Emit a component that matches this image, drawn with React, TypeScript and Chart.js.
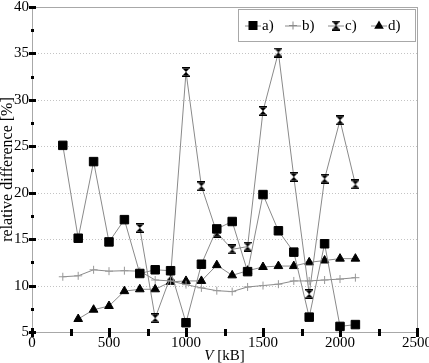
import React, { useEffect, useRef } from 'react';
import { Chart, registerables } from 'chart.js';

Chart.register(...registerables);

// ---- data ----
const sizesAB = [200, 300, 400, 500, 600, 700, 800, 900, 1000, 1100, 1200, 1300, 1400, 1500, 1600, 1700, 1800, 1900, 2000, 2100];
const sizesC = [700, 800, 900, 1000, 1100, 1200, 1300, 1400, 1500, 1600, 1700, 1800, 1900, 2000, 2100];
const sizesD = [300, 400, 500, 600, 700, 800, 900, 1000, 1100, 1200, 1300, 1400, 1500, 1600, 1700, 1800, 1900, 2000, 2100];

const seriesA = [25.1, 15.1, 23.35, 14.7, 17.1, 11.3, 11.7, 11.6, 6.0, 12.3, 16.1, 16.9, 11.5, 19.8, 15.9, 13.6, 6.6, 14.5, 5.6, 5.8];
const seriesB = [10.95, 11.05, 11.7, 11.55, 11.6, 11.55, 10.6, 10.5, 10.1, 9.75, 9.45, 9.35, 9.85, 10.0, 10.15, 10.5, 10.5, 10.6, 10.7, 10.85];
const seriesC = [16.2, 6.5, 11.0, 33.0, 20.7, 15.7, 13.9, 14.2, 28.8, 35.1, 21.7, 9.1, 21.5, 27.8, 20.9];
const seriesD = [6.4, 7.4, 7.8, 9.4, 9.6, 9.6, 10.4, 10.5, 10.5, 12.2, 11.1, 11.6, 12.0, 12.1, 12.1, 12.5, 12.7, 12.9, 12.9];

const seriesLabels = ['a)', 'b)', 'c)', 'd)'];

const yMin = 5;
const yMax = 40;
const yStep = 5;
const xMin = 0;
const xMax = 2500;
const xStep = 500;

const yTitle = 'relative difference [%]';
const xTitleItalic = 'V';
const xTitleRest = ' [kB]';

const FONT = '"Liberation Serif", "Times New Roman", serif';
const LINE_GRAY = '#8a8a8a';

function makeHourglass(): HTMLCanvasElement {
  const c = document.createElement('canvas');
  c.width = 8;
  c.height = 10;
  const g = c.getContext('2d')!;
  g.fillStyle = '#000';
  g.fillRect(0, 0, 8, 1.5);
  g.fillRect(0, 8.5, 8, 1.5);
  g.beginPath();
  g.moveTo(0.5, 1.5);
  g.lineTo(7.5, 1.5);
  g.lineTo(4, 5);
  g.closePath();
  g.fill();
  g.beginPath();
  g.moveTo(0.5, 8.5);
  g.lineTo(7.5, 8.5);
  g.lineTo(4, 5);
  g.closePath();
  g.fill();
  return c;
}

function toPoints(xs: number[], ys: number[]) {
  return xs.map((x, i) => ({ x, y: ys[i] }));
}

function range(min: number, max: number, step: number) {
  const out: number[] = [];
  for (let v = min; v <= max + 1e-9; v += step) out.push(v);
  return out;
}

export default function App() {
  const ref = useRef<HTMLCanvasElement | null>(null);

  useEffect(() => {
    if (!ref.current) return;
    const hourglass = makeHourglass();

    const drawMarker = (ctx: CanvasRenderingContext2D, idx: number, x: number, y: number) => {
      ctx.save();
      ctx.fillStyle = '#000';
      ctx.strokeStyle = '#000';
      if (idx === 0) {
        ctx.fillRect(x - 4.5, y - 4.5, 9, 9);
      } else if (idx === 1) {
        ctx.strokeStyle = LINE_GRAY;
        ctx.lineWidth = 1;
        ctx.beginPath();
        ctx.moveTo(x - 4, y);
        ctx.lineTo(x + 4, y);
        ctx.moveTo(x, y - 4);
        ctx.lineTo(x, y + 4);
        ctx.stroke();
      } else if (idx === 2) {
        ctx.drawImage(hourglass, x - hourglass.width / 2, y - hourglass.height / 2);
      } else {
        ctx.beginPath();
        ctx.moveTo(x, y - 5);
        ctx.lineTo(x + 4.8, y + 3.2);
        ctx.lineTo(x - 4.8, y + 3.2);
        ctx.closePath();
        ctx.fill();
      }
      ctx.restore();
    };

    const framePlugin = {
      id: 'frame',
      beforeDatasetsDraw(chart: any) {
        const { ctx, chartArea, scales } = chart;
        const { left, right, top, bottom } = chartArea;
        const y = scales.y;
        ctx.save();
        ctx.lineWidth = 1;
        ctx.strokeStyle = '#c4c4c4';
        ctx.setLineDash([1, 2]);
        for (const v of range(yMin, yMax, yStep)) {
          if (v === yMin || v === yMax) continue;
          const py = Math.round(y.getPixelForValue(v)) + 0.5;
          ctx.beginPath();
          ctx.moveTo(left, py);
          ctx.lineTo(right, py);
          ctx.stroke();
        }
        ctx.setLineDash([]);
        ctx.strokeStyle = '#a8a8a8';
        ctx.strokeRect(Math.round(left) + 0.5, Math.round(top) + 0.5, Math.round(right - left), Math.round(bottom - top));
        ctx.restore();
      },
      afterDatasetsDraw(chart: any) {
        const { ctx, chartArea, scales } = chart;
        const { left, bottom } = chartArea;
        const x = scales.x;
        const y = scales.y;
        ctx.save();
        ctx.fillStyle = '#000';
        // y ticks
        const ax = Math.round(left);
        for (const v of range(yMin, yMax, yStep / 2)) {
          const py = Math.round(y.getPixelForValue(v));
          const major = Math.abs(v / yStep - Math.round(v / yStep)) < 1e-6;
          if (major) ctx.fillRect(ax - 3, py - 1, 7, 3);
          else ctx.fillRect(ax - 1, py - 1, 3, 3);
        }
        // x ticks
        const ay = Math.round(bottom);
        for (const v of range(xMin, xMax, xStep / 2)) {
          const px = Math.round(x.getPixelForValue(v));
          const major = Math.abs(v / xStep - Math.round(v / xStep)) < 1e-6;
          if (major) ctx.fillRect(px - 1, ay - 4, 3, 9);
          else ctx.fillRect(px - 1, ay - 3, 3, 7);
        }
        // x title
        ctx.textBaseline = 'middle';
        ctx.textAlign = 'left';
        ctx.font = 'italic 15px ' + FONT;
        const w1 = ctx.measureText(xTitleItalic).width;
        ctx.font = '15px ' + FONT;
        const w2 = ctx.measureText(xTitleRest).width;
        const cx = (chartArea.left + chartArea.right) / 2;
        const sx = cx - (w1 + w2) / 2;
        const ty = 356;
        ctx.font = 'italic 15px ' + FONT;
        ctx.fillText(xTitleItalic, sx, ty);
        ctx.font = '15px ' + FONT;
        ctx.fillText(xTitleRest, sx + w1, ty);

        // legend
        const bx = 238.5, by = 9.5, bw = 177, bh = 32;
        ctx.fillStyle = '#fff';
        ctx.fillRect(bx, by, bw, bh);
        ctx.strokeStyle = '#a8a8a8';
        ctx.lineWidth = 1;
        ctx.strokeRect(bx, by, bw, bh);
        const centers = [253, 293, 336, 379];
        const ly = 25.5;
        ctx.font = '15px ' + FONT;
        ctx.textBaseline = 'middle';
        seriesLabels.forEach((lab, i) => {
          const mx = centers[i];
          ctx.strokeStyle = LINE_GRAY;
          ctx.beginPath();
          ctx.moveTo(mx - 8, ly + 0.5);
          ctx.lineTo(mx + 8, ly + 0.5);
          ctx.stroke();
          drawMarker(ctx, i, mx, ly);
          ctx.fillStyle = '#000';
          ctx.fillText(lab, mx + 9, ly + 1);
        });
        ctx.restore();
      },
    };

    const chart = new Chart(ref.current, {
      type: 'line',
      data: {
        datasets: [
          {
            label: seriesLabels[0],
            data: toPoints(sizesAB, seriesA),
            borderColor: LINE_GRAY,
            borderWidth: 1,
            pointStyle: 'rect',
            pointRadius: 6,
            pointBackgroundColor: '#000',
            pointBorderColor: '#000',
            pointBorderWidth: 1,
          },
          {
            label: seriesLabels[1],
            data: toPoints(sizesAB, seriesB),
            borderColor: LINE_GRAY,
            borderWidth: 1,
            pointStyle: 'cross',
            pointRadius: 4,
            pointBorderColor: '#999',
            pointBorderWidth: 1,
          },
          {
            label: seriesLabels[2],
            data: toPoints(sizesC, seriesC),
            borderColor: LINE_GRAY,
            borderWidth: 1,
            pointStyle: hourglass,
            pointRadius: 5,
          },
          {
            label: seriesLabels[3],
            data: toPoints(sizesD, seriesD),
            borderColor: LINE_GRAY,
            borderWidth: 1,
            pointStyle: 'triangle',
            pointRadius: 5,
            pointBackgroundColor: '#000',
            pointBorderColor: '#000',
            pointBorderWidth: 1,
          },
        ],
      },
      options: {
        responsive: false,
        animation: false,
        layout: { padding: { top: 5, right: 12, left: 0, bottom: 0 } },
        plugins: {
          legend: { display: false },
          tooltip: { enabled: false },
        },
        elements: { line: { tension: 0 } },
        scales: {
          x: {
            type: 'linear',
            min: xMin,
            max: xMax,
            grid: { display: false, drawTicks: false },
            border: { display: false },
            ticks: {
              stepSize: xStep,
              color: '#000',
              font: { family: FONT, size: 15 },
              padding: 2,
              maxRotation: 0,
              callback: (v: any) => String(v),
            },
            afterFit(scale: any) {
              scale.height = 31;
              scale.paddingLeft = 0;
              scale.paddingRight = 0;
            },
          },
          y: {
            type: 'linear',
            min: yMin,
            max: yMax,
            grid: { display: false, drawTicks: false },
            border: { display: false },
            ticks: {
              stepSize: yStep,
              color: '#000',
              font: { family: FONT, size: 15 },
              padding: 3,
              callback: (v: any) => String(v),
            },
            title: {
              display: true,
              text: yTitle,
              color: '#000',
              font: { family: FONT, size: 16, lineHeight: 1 },
              padding: { top: 0, bottom: 0 },
            },
            afterFit(scale: any) {
              scale.width = 32;
              scale.paddingTop = 0;
              scale.paddingBottom = 0;
            },
          },
        },
      },
      plugins: [framePlugin],
    } as any);

    return () => chart.destroy();
  }, []);

  return (
    <div style={{ position: 'absolute', left: 0, top: 0, width: 429, height: 363, background: '#fff' }}>
      <canvas ref={ref} width={429} height={363} style={{ width: 429, height: 363, display: 'block' }} />
    </div>
  );
}
